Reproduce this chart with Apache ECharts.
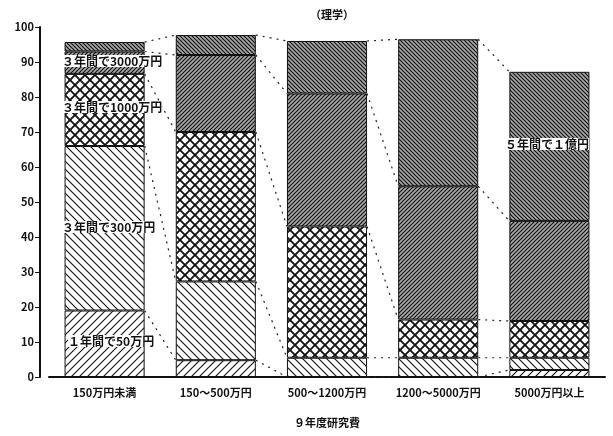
<!DOCTYPE html>
<html lang="ja">
  <head>
    <meta charset="UTF-8" />
    <title>理学</title>
    <style>
      body { margin: 0; background: #fff; }
      #main { width: 613px; height: 436px; }
    </style>
  </head>
  <body>
    <script src="https://cdn.jsdelivr.net/npm/echarts@6/dist/echarts.min.js"></script>
    <div id="main"></div>
    <script>
      const categories = ['150万円未満', '150～500万円', '500～1200万円', '1200～5000万円', '5000万円以上']
      const seriesNames = ['１年間で50万円', '３年間で300万円', '３年間で1000万円', '３年間で3000万円', '５年間で１億円']
      const v50 = [19, 4.8, 0, 0, 2]
      const v300 = [47, 22.5, 5.5, 5.5, 3.5]
      const v1000 = [20.6, 42.7, 37.5, 10.9, 10.5]
      const v3000 = [6.4, 22, 38, 38.1, 28.6]
      const v1oku = [2.7, 5.7, 15, 42, 42.6]
      const allValues = [v50, v300, v1000, v3000, v1oku]

      // hatch patterns drawn on small canvases
      function pattern(kind) {
        const dense = kind.startsWith('dense')
        const s = kind === 'cross' ? 10 : (dense ? 4 : 8)
        const c = document.createElement('canvas')
        c.width = s; c.height = s
        const g = c.getContext('2d')
        g.fillStyle = dense ? '#aaa' : '#fff'
        g.fillRect(0, 0, s, s)
        g.strokeStyle = '#111'
        g.lineWidth = dense ? 1.2 : 1.1
        const fwd = () => { g.beginPath(); g.moveTo(-1, s + 1); g.lineTo(s + 1, -1); g.moveTo(-1, 1); g.lineTo(1, -1); g.moveTo(s - 1, s + 1); g.lineTo(s + 1, s - 1); g.stroke() }
        const back = () => { g.beginPath(); g.moveTo(-1, -1); g.lineTo(s + 1, s + 1); g.moveTo(s - 1, -1); g.lineTo(s + 1, 1); g.moveTo(-1, s - 1); g.lineTo(1, s + 1); g.stroke() }
        if (kind === 'fwd' || kind === 'denseFwd') fwd()
        if (kind === 'back' || kind === 'denseBack') back()
        if (kind === 'cross') { g.lineWidth = 1.8; fwd(); back() }
        return { image: c, repeat: 'repeat' }
      }
      const patterns = ['fwd', 'back', 'cross', 'denseFwd', 'denseBack'].map(pattern)

      // cumulative tops for connecting lines
      const cum = allValues.map((_, k) => categories.map((_, i) => allValues.slice(0, k + 1).reduce((a, arr) => a + arr[i], 0)))
      const links = []
      cum.forEach(level => {
        for (let i = 0; i < categories.length - 1; i++) links.push([i, level[i], level[i + 1]])
      })

      const chart = echarts.init(document.getElementById('main'))
      const font = '"Noto Sans CJK JP", sans-serif'
      chart.setOption({
        animation: false,
        textStyle: { fontFamily: font },
        title: { text: '（理学）', left: 305, top: 4, textStyle: { fontSize: 11, fontWeight: 'bold', color: '#111' } },
        grid: { left: 49, right: 8, top: 27, bottom: 59 },
        xAxis: {
          type: 'category',
          data: categories,
          name: '９年度研究費',
          nameLocation: 'middle',
          nameGap: 40,
          nameTextStyle: { fontSize: 11, fontWeight: 'bold', color: '#111' },
          axisLine: { lineStyle: { color: '#111', width: 2 } },
          axisTick: { alignWithLabel: true, lineStyle: { color: '#111' } },
          axisLabel: { fontSize: 11, fontWeight: 'bold', color: '#111', margin: 10 }
        },
        yAxis: {
          type: 'value', min: 0, max: 100, interval: 10, offset: 9,
          axisLine: { show: true, lineStyle: { color: '#111', width: 2 } },
          axisTick: { show: true, lineStyle: { color: '#111' } },
          splitLine: { show: false },
          axisLabel: { fontSize: 11, fontWeight: 'bold', color: '#111', margin: 6 }
        },
        series: allValues.map((d, k) => ({
          name: seriesNames[k],
          type: 'bar',
          stack: 'all',
          barWidth: '72%',
          data: d,
          itemStyle: { color: patterns[k], borderColor: '#111', borderWidth: 1 }
        })).concat([{
          type: 'custom',
          data: links,
          z: 5,
          renderItem: (params, api) => {
            const hw = api.size([1, 0])[0] * 0.36
            const p1 = api.coord([api.value(0), api.value(1)])
            const p2 = api.coord([api.value(0) + 1, api.value(2)])
            return {
              type: 'line',
              shape: { x1: p1[0] + hw, y1: p1[1], x2: p2[0] - hw, y2: p2[1] },
              style: { stroke: '#222', lineWidth: 1.2, lineDash: [2, 5] }
            }
          }
        }]),
        graphic: [
          [seriesNames[3], 62, 55], [seriesNames[2], 62, 101], [seriesNames[1], 62, 221],
          [seriesNames[0], 68, 335], [seriesNames[4], 505, 138]
        ].map(([t, x, y]) => ({
          type: 'text', x, y, z: 10,
          style: { text: t, fontSize: 12, fontWeight: 'bold', fill: '#111', backgroundColor: '#fff', fontFamily: font }
        }))
      })
    </script>
  </body>
</html>
